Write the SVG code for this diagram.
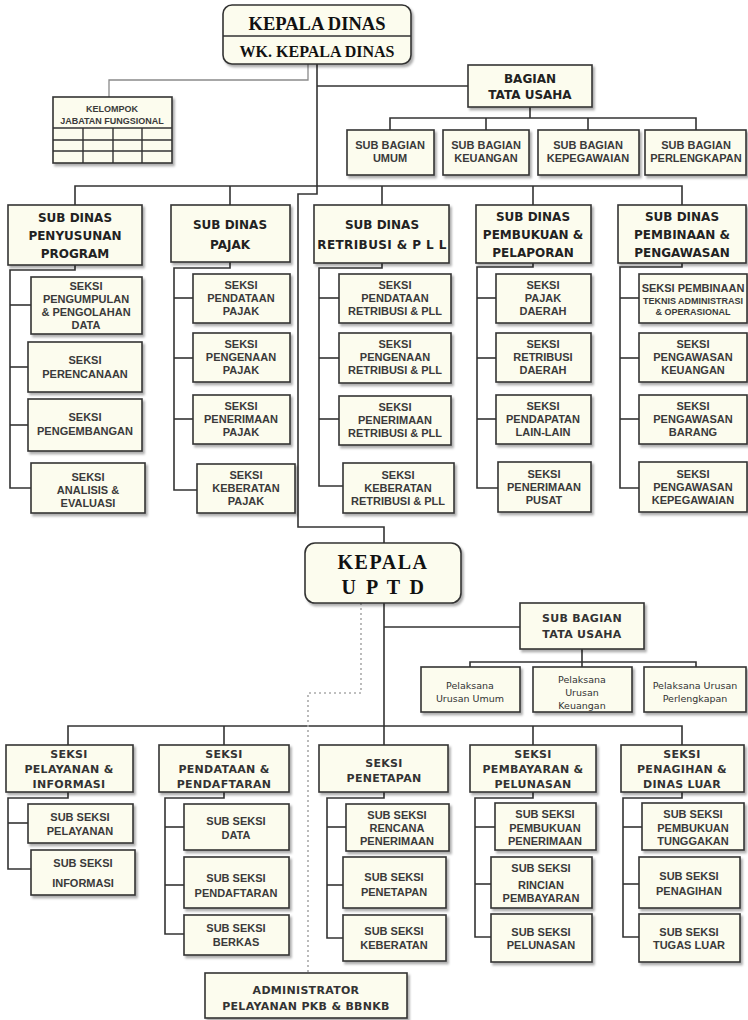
<svg xmlns="http://www.w3.org/2000/svg" width="748" height="1020" viewBox="0 0 748 1020">
<defs>
<filter id="sh" x="-10%" y="-10%" width="130%" height="140%"><feDropShadow dx="2" dy="2.5" stdDeviation="1.3" flood-color="#000" flood-opacity="0.32"/></filter>
<style>
.bx{fill:#fcfcee;stroke:#333;stroke-width:1.6;filter:url(#sh)}
.ln{fill:none;stroke:#333;stroke-width:1.6}
.lg{fill:none;stroke:#8a8a8a;stroke-width:1.3}
.dot{fill:none;stroke:#aaa;stroke-width:1.6;stroke-dasharray:2 3}
text{text-anchor:middle}
.hd{font-family:"Liberation Serif",serif;font-weight:bold;fill:#111}
.sd{font-family:"DejaVu Sans",sans-serif;font-weight:bold;font-size:12px;fill:#222}
.sk{font-family:"Liberation Sans",Arial,sans-serif;font-weight:bold;font-size:11px;fill:#3a3a3a}
.sm{font-family:"Liberation Sans",Arial,sans-serif;font-weight:bold;font-size:9px;fill:#3a3a3a}
.pl{font-family:"DejaVu Sans",sans-serif;font-size:9.5px;fill:#333}
.us{font-family:"DejaVu Sans",sans-serif;font-weight:bold;font-size:11px;fill:#333;letter-spacing:0.3px}
</style>
</defs>

<g id="connectors">
<polyline class="lg" points="308,64 308,80 109,80 109,97"/>
<polyline class="ln" points="317,64 317,194 298,194 298,527 384,527 384,543"/>
<line class="ln" x1="317" y1="86" x2="468" y2="86"/>
<polyline class="ln" points="530,107 530,118"/>
<polyline class="ln" points="390,130 390,118 696,118 696,130"/>
<line class="ln" x1="486" y1="118" x2="486" y2="130"/>
<line class="ln" x1="588" y1="118" x2="588" y2="130"/>
<polyline class="ln" points="75,205 75,186 682,186 682,205"/>
<line class="ln" x1="230" y1="186" x2="230" y2="205"/>
<line class="ln" x1="382" y1="186" x2="382" y2="205"/>
<line class="ln" x1="533" y1="186" x2="533" y2="205"/>
<polyline class="ln" points="75,265 75,270 10,270 10,488 31,488"/>
<line class="ln" x1="10" y1="305" x2="31" y2="305"/>
<line class="ln" x1="10" y1="367" x2="28" y2="367"/>
<line class="ln" x1="10" y1="425" x2="28" y2="425"/>
<polyline class="ln" points="230,262 230,268 174,268 174,490 197,490"/>
<line class="ln" x1="174" y1="298" x2="193" y2="298"/>
<line class="ln" x1="174" y1="358" x2="193" y2="358"/>
<line class="ln" x1="174" y1="419" x2="193" y2="419"/>
<polyline class="ln" points="382,263 382,268 319,268 319,486 343,486"/>
<line class="ln" x1="319" y1="298" x2="339" y2="298"/>
<line class="ln" x1="319" y1="358" x2="339" y2="358"/>
<line class="ln" x1="319" y1="419" x2="339" y2="419"/>
<polyline class="ln" points="533,263 533,267 477,267 477,488 498,488"/>
<line class="ln" x1="477" y1="298" x2="496" y2="298"/>
<line class="ln" x1="477" y1="358" x2="496" y2="358"/>
<line class="ln" x1="477" y1="419" x2="496" y2="419"/>
<polyline class="ln" points="682,263 682,267 620,267 620,488 639,488"/>
<line class="ln" x1="620" y1="298" x2="639" y2="298"/>
<line class="ln" x1="620" y1="358" x2="639" y2="358"/>
<line class="ln" x1="620" y1="419" x2="639" y2="419"/>
<line class="ln" x1="384" y1="603" x2="384" y2="745"/>
<line class="ln" x1="384" y1="627" x2="520" y2="627"/>
<line class="ln" x1="582" y1="649" x2="582" y2="662"/>
<polyline class="ln" points="470,667 470,662 696,662 696,667"/>
<line class="ln" x1="582" y1="662" x2="582" y2="667"/>
<polyline class="ln" points="68,745 68,726 682,726 682,745"/>
<line class="ln" x1="224" y1="726" x2="224" y2="745"/>
<line class="ln" x1="533" y1="726" x2="533" y2="745"/>
<polyline class="dot" points="361,603 361,693 308,693 308,973"/>
<polyline class="ln" points="68,792 68,798 8,798 8,869 31,869"/>
<line class="ln" x1="8" y1="823" x2="28" y2="823"/>
<polyline class="ln" points="224,792 224,798 165,798 165,934 184,934"/>
<line class="ln" x1="165" y1="827" x2="184" y2="827"/>
<line class="ln" x1="165" y1="885" x2="184" y2="885"/>
<polyline class="ln" points="384,792 384,798 327,798 327,938 343,938"/>
<line class="ln" x1="327" y1="827" x2="346" y2="827"/>
<line class="ln" x1="327" y1="885" x2="343" y2="885"/>
<polyline class="ln" points="533,792 533,798 475,798 475,937 491,937"/>
<line class="ln" x1="475" y1="827" x2="495" y2="827"/>
<line class="ln" x1="475" y1="884" x2="491" y2="884"/>
<polyline class="ln" points="682,792 682,798 623,798 623,937 639,937"/>
<line class="ln" x1="623" y1="827" x2="642" y2="827"/>
<line class="ln" x1="623" y1="884" x2="639" y2="884"/>
</g>

<g id="kepala-dinas">
<rect class="bx" x="223" y="5" width="188" height="59" rx="9"/>
<line x1="223" y1="36" x2="411" y2="36" stroke="#333" stroke-width="1.6"/>
<text class="hd" x="317" y="30" font-size="18.5">KEPALA DINAS</text>
<text class="hd" x="317" y="57" font-size="16">WK. KEPALA DINAS</text>
</g>

<g id="kelompok-jabatan">
<rect class="bx" x="53" y="97" width="119" height="66"/>
<g stroke="#333" stroke-width="1.4">
<line x1="53" y1="128" x2="172" y2="128"/><line x1="53" y1="140" x2="172" y2="140"/><line x1="53" y1="151" x2="172" y2="151"/>
<line x1="83" y1="128" x2="83" y2="163"/><line x1="113" y1="128" x2="113" y2="163"/><line x1="142" y1="128" x2="142" y2="163"/>
</g>
<text class="sm" x="112" y="112">KELOMPOK</text>
<text class="sm" x="112" y="124">JABATAN FUNGSIONAL</text>
</g>

<g id="bagian-tata-usaha">
<rect class="bx" x="468" y="65" width="124" height="42"/>
<text class="sd" x="530" y="83">BAGIAN</text>
<text class="sd" x="530" y="99">TATA USAHA</text>
</g>

<g id="sb-umum"><rect class="bx" x="347" y="130" width="87" height="45"/><text class="sk" x="390" y="149">SUB BAGIAN</text><text class="sk" x="390" y="162">UMUM</text></g>
<g id="sb-keuangan"><rect class="bx" x="443" y="130" width="86" height="45"/><text class="sk" x="486" y="149">SUB BAGIAN</text><text class="sk" x="486" y="162">KEUANGAN</text></g>
<g id="sb-kepegawaian"><rect class="bx" x="538" y="130" width="101" height="45"/><text class="sk" x="588" y="149">SUB BAGIAN</text><text class="sk" x="588" y="162">KEPEGAWAIAN</text></g>
<g id="sb-perlengkapan"><rect class="bx" x="645" y="130" width="101" height="45"/><text class="sk" x="696" y="149">SUB BAGIAN</text><text class="sk" x="696" y="162">PERLENGKAPAN</text></g>

<g id="sd-penyusunan"><rect class="bx" x="8" y="205" width="134" height="60"/><text class="sd" x="75" y="222">SUB DINAS</text><text class="sd" x="75" y="240">PENYUSUNAN</text><text class="sd" x="75" y="258">PROGRAM</text></g>
<g id="sd-pajak"><rect class="bx" x="171" y="205" width="119" height="57"/><text class="sd" x="230" y="229">SUB DINAS</text><text class="sd" x="230" y="249">PAJAK</text></g>
<g id="sd-retribusi"><rect class="bx" x="314" y="205" width="135" height="58"/><text class="sd" x="382" y="229">SUB DINAS</text><text class="sd" x="382" y="249" letter-spacing="0.4">RETRIBUSI &amp; P L L</text></g>
<g id="sd-pembukuan"><rect class="bx" x="476" y="205" width="115" height="58"/><text class="sd" x="533" y="221">SUB DINAS</text><text class="sd" x="533" y="239">PEMBUKUAN &amp;</text><text class="sd" x="533" y="257">PELAPORAN</text></g>
<g id="sd-pembinaan"><rect class="bx" x="618" y="205" width="128" height="58"/><text class="sd" x="682" y="221">SUB DINAS</text><text class="sd" x="682" y="239">PEMBINAAN &amp;</text><text class="sd" x="682" y="257">PENGAWASAN</text></g>

<g id="s-pengumpulan"><rect class="bx" x="31" y="277" width="111" height="57"/><text class="sk" x="86" y="290">SEKSI</text><text class="sk" x="86" y="303">PENGUMPULAN</text><text class="sk" x="86" y="316">&amp; PENGOLAHAN</text><text class="sk" x="86" y="329">DATA</text></g>
<g id="s-perencanaan"><rect class="bx" x="28" y="342" width="114" height="50"/><text class="sk" x="85" y="364">SEKSI</text><text class="sk" x="85" y="378">PERENCANAAN</text></g>
<g id="s-pengembangan"><rect class="bx" x="28" y="399" width="114" height="52"/><text class="sk" x="85" y="421">SEKSI</text><text class="sk" x="85" y="435">PENGEMBANGAN</text></g>
<g id="s-analisis"><rect class="bx" x="31" y="463" width="114" height="50"/><text class="sk" x="88" y="481">SEKSI</text><text class="sk" x="88" y="494">ANALISIS &amp;</text><text class="sk" x="88" y="507">EVALUASI</text></g>

<g id="s-pendataan-pajak"><rect class="bx" x="193" y="274" width="97" height="49"/><text class="sk" x="241" y="289">SEKSI</text><text class="sk" x="241" y="302">PENDATAAN</text><text class="sk" x="241" y="315">PAJAK</text></g>
<g id="s-pengenaan-pajak"><rect class="bx" x="193" y="333" width="97" height="49"/><text class="sk" x="241" y="348">SEKSI</text><text class="sk" x="241" y="361">PENGENAAN</text><text class="sk" x="241" y="374">PAJAK</text></g>
<g id="s-penerimaan-pajak"><rect class="bx" x="193" y="395" width="97" height="49"/><text class="sk" x="241" y="410">SEKSI</text><text class="sk" x="241" y="423">PENERIMAAN</text><text class="sk" x="241" y="436">PAJAK</text></g>
<g id="s-keberatan-pajak"><rect class="bx" x="197" y="464" width="98" height="49"/><text class="sk" x="246" y="479">SEKSI</text><text class="sk" x="246" y="492">KEBERATAN</text><text class="sk" x="246" y="505">PAJAK</text></g>

<g id="s-pendataan-retribusi"><rect class="bx" x="339" y="274" width="112" height="49"/><text class="sk" x="395" y="289">SEKSI</text><text class="sk" x="395" y="302">PENDATAAN</text><text class="sk" x="395" y="315">RETRIBUSI &amp; PLL</text></g>
<g id="s-pengenaan-retribusi"><rect class="bx" x="339" y="333" width="112" height="50"/><text class="sk" x="395" y="348">SEKSI</text><text class="sk" x="395" y="361">PENGENAAN</text><text class="sk" x="395" y="374">RETRIBUSI &amp; PLL</text></g>
<g id="s-penerimaan-retribusi"><rect class="bx" x="339" y="396" width="112" height="49"/><text class="sk" x="395" y="411">SEKSI</text><text class="sk" x="395" y="424">PENERIMAAN</text><text class="sk" x="395" y="437">RETRIBUSI &amp; PLL</text></g>
<g id="s-keberatan-retribusi"><rect class="bx" x="343" y="463" width="111" height="50"/><text class="sk" x="398" y="479">SEKSI</text><text class="sk" x="398" y="492">KEBERATAN</text><text class="sk" x="398" y="505">RETRIBUSI &amp; PLL</text></g>

<g id="s-pajak-daerah"><rect class="bx" x="496" y="274" width="95" height="49"/><text class="sk" x="543" y="289">SEKSI</text><text class="sk" x="543" y="302">PAJAK</text><text class="sk" x="543" y="315">DAERAH</text></g>
<g id="s-retribusi-daerah"><rect class="bx" x="496" y="333" width="95" height="49"/><text class="sk" x="543" y="348">SEKSI</text><text class="sk" x="543" y="361">RETRIBUSI</text><text class="sk" x="543" y="374">DAERAH</text></g>
<g id="s-pendapatan"><rect class="bx" x="496" y="395" width="95" height="49"/><text class="sk" x="543" y="410">SEKSI</text><text class="sk" x="543" y="423">PENDAPATAN</text><text class="sk" x="543" y="436">LAIN-LAIN</text></g>
<g id="s-penerimaan-pusat"><rect class="bx" x="498" y="462" width="93" height="50"/><text class="sk" x="544" y="478">SEKSI</text><text class="sk" x="544" y="491">PENERIMAAN</text><text class="sk" x="544" y="504">PUSAT</text></g>

<g id="s-pembinaan-teknis"><rect class="bx" x="639" y="274" width="108" height="49"/><text class="sk" x="693" y="292" font-size="10.5">SEKSI PEMBINAAN</text><text class="sm" x="693" y="304" font-size="8.5">TEKNIS ADMINISTRASI</text><text class="sm" x="693" y="315" font-size="8.5">&amp; OPERASIONAL</text></g>
<g id="s-pengawasan-keuangan"><rect class="bx" x="639" y="333" width="108" height="49"/><text class="sk" x="693" y="348">SEKSI</text><text class="sk" x="693" y="361">PENGAWASAN</text><text class="sk" x="693" y="374">KEUANGAN</text></g>
<g id="s-pengawasan-barang"><rect class="bx" x="639" y="395" width="108" height="49"/><text class="sk" x="693" y="410">SEKSI</text><text class="sk" x="693" y="423">PENGAWASAN</text><text class="sk" x="693" y="436">BARANG</text></g>
<g id="s-pengawasan-kepegawaian"><rect class="bx" x="639" y="462" width="108" height="50"/><text class="sk" x="693" y="478">SEKSI</text><text class="sk" x="693" y="491">PENGAWASAN</text><text class="sk" x="693" y="504">KEPEGAWAIAN</text></g>

<g id="kepala-uptd">
<rect class="bx" x="305" y="543" width="156" height="60" rx="10"/>
<text class="hd" x="383" y="569" font-size="20" letter-spacing="1.5">KEPALA</text>
<text class="hd" x="384" y="594" font-size="20" letter-spacing="2.5">U P T D</text>
</g>

<g id="uptd-sub-bagian-tu"><rect class="bx" x="520" y="603" width="124" height="46"/><text class="us" x="582" y="622">SUB BAGIAN</text><text class="us" x="582" y="638">TATA USAHA</text></g>
<g id="pl-umum"><rect class="bx" x="421" y="667" width="99" height="45"/><text class="pl" x="470" y="689">Pelaksana</text><text class="pl" x="470" y="702">Urusan Umum</text></g>
<g id="pl-keuangan"><rect class="bx" x="533" y="667" width="99" height="45"/><text class="pl" x="582" y="683">Pelaksana</text><text class="pl" x="582" y="696">Urusan</text><text class="pl" x="582" y="709">Keuangan</text></g>
<g id="pl-perlengkapan"><rect class="bx" x="644" y="667" width="102" height="45"/><text class="pl" x="695" y="689">Pelaksana Urusan</text><text class="pl" x="695" y="702">Perlengkapan</text></g>

<g id="seksi-pelayanan"><rect class="bx" x="6" y="745" width="127" height="47"/><text class="us" x="69" y="758">SEKSI</text><text class="us" x="69" y="773">PELAYANAN &amp;</text><text class="us" x="69" y="788">INFORMASI</text></g>
<g id="seksi-pendataan"><rect class="bx" x="159" y="745" width="130" height="47"/><text class="us" x="224" y="758">SEKSI</text><text class="us" x="224" y="773">PENDATAAN &amp;</text><text class="us" x="224" y="788">PENDAFTARAN</text></g>
<g id="seksi-penetapan"><rect class="bx" x="319" y="745" width="129" height="47"/><text class="us" x="384" y="767">SEKSI</text><text class="us" x="384" y="782">PENETAPAN</text></g>
<g id="seksi-pembayaran"><rect class="bx" x="470" y="745" width="126" height="47"/><text class="us" x="533" y="758">SEKSI</text><text class="us" x="533" y="773">PEMBAYARAN &amp;</text><text class="us" x="533" y="788">PELUNASAN</text></g>
<g id="seksi-penagihan"><rect class="bx" x="621" y="745" width="123" height="47"/><text class="us" x="682" y="758">SEKSI</text><text class="us" x="682" y="773">PENAGIHAN &amp;</text><text class="us" x="682" y="788">DINAS LUAR</text></g>

<g id="ss-pelayanan"><rect class="bx" x="28" y="804" width="105" height="39"/><text class="sk" x="80" y="821">SUB SEKSI</text><text class="sk" x="80" y="835">PELAYANAN</text></g>
<g id="ss-informasi"><rect class="bx" x="31" y="850" width="104" height="45"/><text class="sk" x="83" y="867">SUB SEKSI</text><text class="sk" x="83" y="887">INFORMASI</text></g>

<g id="ss-data"><rect class="bx" x="184" y="804" width="105" height="46"/><text class="sk" x="236" y="825">SUB SEKSI</text><text class="sk" x="236" y="839">DATA</text></g>
<g id="ss-pendaftaran"><rect class="bx" x="184" y="857" width="105" height="51"/><text class="sk" x="236" y="882">SUB SEKSI</text><text class="sk" x="236" y="897">PENDAFTARAN</text></g>
<g id="ss-berkas"><rect class="bx" x="184" y="915" width="105" height="40"/><text class="sk" x="236" y="932">SUB SEKSI</text><text class="sk" x="236" y="946">BERKAS</text></g>

<g id="ss-rencana"><rect class="bx" x="346" y="804" width="103" height="47"/><text class="sk" x="397" y="819">SUB SEKSI</text><text class="sk" x="397" y="832">RENCANA</text><text class="sk" x="397" y="845">PENERIMAAN</text></g>
<g id="ss-penetapan"><rect class="bx" x="343" y="857" width="103" height="51"/><text class="sk" x="394" y="881">SUB SEKSI</text><text class="sk" x="394" y="896">PENETAPAN</text></g>
<g id="ss-keberatan"><rect class="bx" x="343" y="915" width="103" height="46"/><text class="sk" x="394" y="935">SUB SEKSI</text><text class="sk" x="394" y="949">KEBERATAN</text></g>

<g id="ss-pembukuan-penerimaan"><rect class="bx" x="495" y="803" width="101" height="47"/><text class="sk" x="545" y="818">SUB SEKSI</text><text class="sk" x="545" y="832">PEMBUKUAN</text><text class="sk" x="545" y="845">PENERIMAAN</text></g>
<g id="ss-rincian"><rect class="bx" x="491" y="857" width="101" height="51"/><text class="sk" x="541" y="872">SUB SEKSI</text><text class="sk" x="541" y="889">RINCIAN</text><text class="sk" x="541" y="902">PEMBAYARAN</text></g>
<g id="ss-pelunasan"><rect class="bx" x="491" y="914" width="101" height="48"/><text class="sk" x="541" y="936">SUB SEKSI</text><text class="sk" x="541" y="949">PELUNASAN</text></g>

<g id="ss-pembukuan-tunggakan"><rect class="bx" x="642" y="803" width="102" height="47"/><text class="sk" x="693" y="818">SUB SEKSI</text><text class="sk" x="693" y="832">PEMBUKUAN</text><text class="sk" x="693" y="845">TUNGGAKAN</text></g>
<g id="ss-penagihan"><rect class="bx" x="639" y="857" width="101" height="51"/><text class="sk" x="689" y="880">SUB SEKSI</text><text class="sk" x="689" y="895">PENAGIHAN</text></g>
<g id="ss-tugas-luar"><rect class="bx" x="639" y="914" width="101" height="48"/><text class="sk" x="689" y="936">SUB SEKSI</text><text class="sk" x="689" y="949">TUGAS LUAR</text></g>

<g id="administrator"><rect class="bx" x="205" y="973" width="202" height="45"/><text class="us" x="306" y="994" letter-spacing="0.8">ADMINISTRATOR</text><text class="us" x="306" y="1010" letter-spacing="0.4">PELAYANAN PKB &amp; BBNKB</text></g>
</svg>
